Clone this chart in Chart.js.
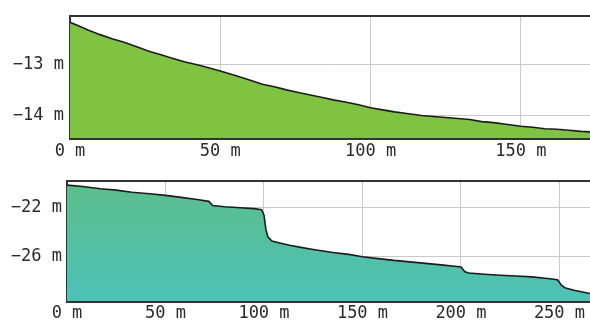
<!DOCTYPE html>
<html>
<head>
<meta charset="utf-8">
<script src="https://cdn.jsdelivr.net/npm/chart.js@4/dist/chart.umd.min.js"></script>
<style>
  html, body { margin: 0; padding: 0; background: #fff; }
  #wrap { position: relative; width: 590px; height: 320px; overflow: hidden; }
  canvas { position: absolute; left: 0; }
  #upper { top: 0; }
  #lower { top: 160px; }
</style>
</head>
<body>
<div id="wrap">
  <canvas id="upper" width="590" height="160"></canvas>
  <canvas id="lower" width="590" height="160"></canvas>
</div>
<script>
// Profile 1: distance (m) and elevation (m)
const upperDist = [0, 3, 6, 10, 14, 18, 22, 26, 30, 34, 38, 43, 47, 50, 55, 60, 64, 68, 72, 76, 80, 84, 88, 92, 96, 100, 104, 108, 112, 117, 121, 125, 129, 133, 137, 141, 145, 150, 154, 158, 162, 166, 170, 173];
const upperElev = [-12.18, -12.25, -12.33, -12.42, -12.5, -12.57, -12.65, -12.74, -12.81, -12.88, -12.95, -13.02, -13.08, -13.13, -13.22, -13.31, -13.39, -13.44, -13.5, -13.55, -13.6, -13.65, -13.7, -13.74, -13.79, -13.85, -13.89, -13.93, -13.96, -14.0, -14.02, -14.04, -14.06, -14.08, -14.12, -14.14, -14.17, -14.21, -14.23, -14.26, -14.27, -14.29, -14.31, -14.32];
const upperXTicks = [0, 50, 100, 150];
const upperYTicks = [-14, -13];

// Profile 2: distance (m) and elevation (m)
const lowerDist = [0, 8, 17, 25, 33, 42, 50, 58, 66, 72, 74, 80, 88, 95, 98.8, 100, 101, 102, 104, 108, 113, 118, 125, 135, 143, 150, 158, 166, 174, 182, 190, 198, 200, 202, 204, 212, 220, 228, 236, 244, 249, 251, 253, 258, 265.5];
const lowerElev = [-20.1, -20.22, -20.4, -20.52, -20.7, -20.82, -20.95, -21.12, -21.3, -21.45, -21.8, -21.9, -21.98, -22.05, -22.15, -22.6, -23.8, -24.4, -24.75, -24.9, -25.1, -25.25, -25.45, -25.7, -25.85, -26.05, -26.2, -26.35, -26.47, -26.6, -26.72, -26.85, -26.9, -27.3, -27.4, -27.5, -27.58, -27.65, -27.72, -27.85, -27.95, -28.4, -28.65, -28.85, -29.1];
const lowerXTicks = [0, 50, 100, 150, 200, 250];
const lowerYTicks = [-26, -22];

const FONT = { family: "'DejaVu Sans Mono', 'Liberation Mono', monospace", size: 17 };
const INK = '#2a2a2a';
const GRID = '#c8c8c8';

function points(xs, ys) {
  return xs.map((x, i) => ({ x: x, y: ys[i] }));
}

function fixedTicks(values) {
  return function (scale) {
    scale.ticks = values.map(v => ({ value: v }));
  };
}

// "−13 m" style labels with a true minus sign
function metres(v) {
  return (v < 0 ? '\u2212' + Math.abs(v) : String(v)) + ' m';
}

function profileChart(canvasId, cfg) {
  return new Chart(document.getElementById(canvasId), {
    type: 'line',
    data: {
      datasets: [{
        data: points(cfg.dist, cfg.elev),
        borderColor: '#1c1c1c',
        borderWidth: 1.6,
        pointRadius: 0,
        tension: 0,
        fill: 'start',
        backgroundColor: cfg.fill
      }]
    },
    options: {
      responsive: false,
      animation: false,
      layout: { padding: { top: cfg.padTop, right: 0, left: 0, bottom: 0 } },
      plugins: { legend: { display: false }, tooltip: { enabled: false } },
      scales: {
        x: {
          type: 'linear',
          position: 'bottom',
          min: 0,
          max: cfg.xMax,
          afterBuildTicks: fixedTicks(cfg.xTicks),
          afterFit: s => { s.height = cfg.xAxisHeight; },
          grid: { color: GRID, lineWidth: 1, drawTicks: false },
          border: { color: '#333', width: 3 },
          ticks: {
            font: FONT, color: INK, padding: cfg.xPad, maxRotation: 0,
            callback: metres
          }
        },
        xTop: {
          type: 'linear',
          position: 'top',
          min: 0,
          max: cfg.xMax,
          afterFit: s => { s.height = 0; },
          grid: { display: false, drawTicks: false },
          border: { color: '#333', width: 2 },
          ticks: { display: false }
        },
        y: {
          type: 'linear',
          min: cfg.yMin,
          max: cfg.yMax,
          afterBuildTicks: fixedTicks(cfg.yTicks),
          afterFit: s => { s.width = cfg.yAxisWidth; },
          grid: { color: GRID, lineWidth: 1, drawTicks: false },
          border: { color: '#333', width: 2 },
          ticks: {
            font: FONT, color: INK, padding: cfg.yPad,
            callback: metres
          }
        }
      }
    }
  });
}

profileChart('upper', {
  dist: upperDist, elev: upperElev,
  xMax: 173, xTicks: upperXTicks,
  yMin: -14.44, yMax: -12.06, yTicks: upperYTicks,
  padTop: 14, xAxisHeight: 22, yAxisWidth: 70, xPad: 3, yPad: 6,
  fill: '#80c342'
});

profileChart('lower', {
  dist: lowerDist, elev: lowerElev,
  xMax: 265.5, xTicks: lowerXTicks,
  yMin: -29.72, yMax: -19.76, yTicks: lowerYTicks,
  padTop: 21, xAxisHeight: 19, yAxisWidth: 67, xPad: 2, yPad: 5,
  fill: function (ctx) {
    const area = ctx.chart.chartArea;
    if (!area) return '#55bf9c';
    const g = ctx.chart.ctx.createLinearGradient(0, area.top, 0, area.bottom);
    g.addColorStop(0, '#5cbe8a');
    g.addColorStop(1, '#4cc2b8');
    return g;
  }
});
</script>
</body>
</html>
